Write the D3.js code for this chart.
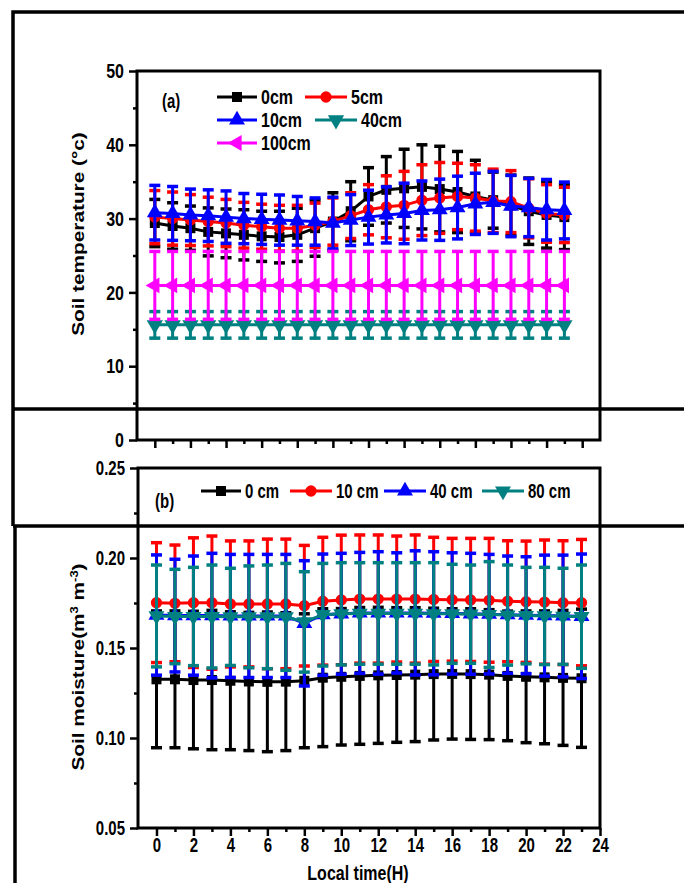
<!DOCTYPE html>
<meta charset="utf-8">
<head>
	<script src="https://d3js.org/d3.v7.min.js"></script>
</head>
<style>
	body { margin: 0; background: #fff; }
	svg text {
		font-family: "Liberation Sans", Arial, sans-serif;
		font-weight: bold;
		fill: #000;
	}
	.tick line { stroke: #000; stroke-width: 2.5px; }
	.domain { display: none; }
</style>
<body>
<svg id="chart" width="684" height="883"></svg>
<script>
	// ---------- data ----------
	var hours = [0,1,2,3,4,5,6,7,8,9,10,11,12,13,14,15,16,17,18,19,20,21,22,23];

	// (a) soil temperature, mean and std
	var t0cm = [29.4,29.0,28.7,28.2,28.0,27.8,27.6,27.5,27.8,28.7,29.6,31.0,33.0,33.9,34.1,34.3,34.0,33.6,33.0,32.5,31.8,31.0,30.5,30.2];
	var t0cmSd = [3.2,3.15,3.0,3.25,3.3,3.4,3.4,3.5,3.6,3.8,3.9,4.0,3.9,4.5,5.3,5.7,5.8,5.5,4.9,3.8,4.1,4.5,4.5,4.4];
	var t5cm = [30.2,30.0,29.8,29.6,29.4,29.1,28.9,28.7,28.7,29.1,29.6,30.4,31.2,31.6,31.8,32.5,32.8,33.0,32.8,32.4,32.3,31.4,30.7,30.5];
	var t5cmSd = [3.6,3.6,3.45,3.3,3.2,3.1,3.05,3.1,3.1,3.0,3.2,3.1,3.4,4.2,4.6,4.8,4.8,4.5,4.5,4.3,4.2,4.0,3.9,3.75];
	var t10cm = [30.8,30.7,30.5,30.4,30.2,30.0,29.9,29.8,29.7,29.6,29.4,29.8,30.2,30.5,30.7,31.1,31.2,31.5,32.0,32.2,31.7,31.5,31.2,31.1];
	var t10cmSd = [3.7,3.65,3.5,3.5,3.55,3.4,3.4,3.4,3.3,3.2,3.5,3.45,3.65,3.8,4.1,4.0,4.15,4.25,4.15,4.2,4.15,3.95,4.1,3.85];
	var t40cm = [15.6,15.6,15.6,15.6,15.6,15.6,15.6,15.6,15.6,15.6,15.6,15.6,15.6,15.6,15.6,15.6,15.6,15.6,15.6,15.6,15.6,15.6,15.6,15.6];
	var t40cmSd = [1.8,1.8,1.8,1.8,1.8,1.8,1.8,1.8,1.8,1.8,1.8,1.8,1.8,1.8,1.8,1.8,1.8,1.8,1.8,1.8,1.8,1.8,1.8,1.8];
	var t100cm = [20.95,20.95,20.95,20.95,20.95,20.95,20.95,20.95,20.95,20.95,20.95,20.95,20.95,20.95,20.95,20.95,20.95,20.95,20.95,20.95,20.95,20.95,20.95,20.95];
	var t100cmSd = [4.6,4.6,4.6,4.6,4.6,4.6,4.6,4.6,4.6,4.6,4.6,4.6,4.6,4.6,4.6,4.6,4.6,4.6,4.6,4.6,4.6,4.6,4.6,4.6];

	// (b) soil moisture, mean and std
	var m0cm = [0.1326,0.1326,0.1322,0.1322,0.1318,0.1314,0.1312,0.1313,0.1318,0.1335,0.1340,0.1345,0.1348,0.1350,0.1352,0.1355,0.1356,0.1355,0.1352,0.1345,0.1340,0.1337,0.1334,0.1332];
	var m0cmSd = [0.0380,0.0380,0.0382,0.0387,0.0383,0.0384,0.0388,0.0383,0.0372,0.0383,0.0379,0.0380,0.0378,0.0374,0.0372,0.0366,0.0362,0.0363,0.0361,0.0360,0.0366,0.0369,0.0375,0.0384];
	var m10cm = [0.1752,0.1748,0.1752,0.1752,0.1745,0.1745,0.1745,0.1745,0.1735,0.1760,0.1767,0.1772,0.1772,0.1772,0.1772,0.1770,0.1768,0.1767,0.1765,0.1760,0.1757,0.1755,0.1752,0.1752];
	var m10cmSd = [0.0333,0.0324,0.0360,0.0370,0.0350,0.0350,0.0360,0.0360,0.0335,0.0355,0.0360,0.0356,0.0356,0.0350,0.0356,0.0345,0.0341,0.0342,0.0344,0.0336,0.0337,0.0345,0.0344,0.0351];
	var m40cm = [0.1683,0.1680,0.1680,0.1680,0.1678,0.1678,0.1678,0.1678,0.1637,0.1685,0.1690,0.1695,0.1695,0.1695,0.1695,0.1693,0.1692,0.1690,0.1688,0.1685,0.1682,0.1680,0.1678,0.1676];
	var m40cmSd = [0.0334,0.0313,0.0331,0.0346,0.0342,0.0342,0.0342,0.0342,0.0348,0.0337,0.0336,0.0336,0.0340,0.0334,0.0345,0.0342,0.0337,0.0336,0.0332,0.0326,0.0325,0.0336,0.0338,0.0346];
	var m80cm = [0.1678,0.1675,0.1675,0.1675,0.1673,0.1673,0.1673,0.1673,0.1645,0.1685,0.1690,0.1692,0.1692,0.1692,0.1692,0.1690,0.1690,0.1688,0.1686,0.1683,0.1680,0.1678,0.1676,0.1674];
	var m80cmSd = [0.0283,0.0262,0.0273,0.0286,0.0270,0.0283,0.0288,0.0297,0.0279,0.0285,0.0284,0.0282,0.0282,0.0282,0.0282,0.0284,0.0275,0.0273,0.0294,0.0278,0.0268,0.0270,0.0267,0.0287];

	// ticks
	var xMajor = [0,2,4,6,8,10,12,14,16,18,20,22,24];
	var xMinor = [1,3,5,7,9,11,13,15,17,19,21,23];
	var yMajorA = [0,10,20,30,40,50];
	var yMinorA = [5,15,25,35,45];
	var yMajorB = [0.05,0.10,0.15,0.20,0.25];
	var yMinorB = [0.075,0.125,0.175,0.225];

	var svg = d3.select("#chart");
	var SY = 1.3;   // the original figure is stretched vertically, text looks tall

	// ---------- helpers ----------
	function series(g, x, y, mean, sd, color, shape, rot, size) {
		var pts = hours.map(function(h, i) { return {h: h, m: mean[i], s: sd[i]}; });
		var eb = g.append("g");
		pts.forEach(function(d) {
			eb.append("line")
				.attr("x1", x(d.h)).attr("x2", x(d.h))
				.attr("y1", y(d.m + d.s)).attr("y2", y(d.m - d.s))
				.attr("stroke", color).attr("stroke-width", 3);
			[d.m + d.s, d.m - d.s].forEach(function(v) {
				eb.append("line")
					.attr("x1", x(d.h) - 5.5).attr("x2", x(d.h) + 5.5)
					.attr("y1", y(v)).attr("y2", y(v))
					.attr("stroke", color).attr("stroke-width", 3.5);
			});
		});
		g.append("path")
			.attr("d", d3.line().x(function(d) { return x(d.h); }).y(function(d) { return y(d.m); })(pts))
			.attr("fill", "none").attr("stroke", color).attr("stroke-width", 3);
		g.selectAll(null).data(pts).enter().append("path")
			.attr("d", d3.symbol().type(shape).size(size)())
			.attr("transform", function(d) { return "translate(" + x(d.h) + "," + y(d.m) + ") rotate(" + rot + ")"; })
			.attr("fill", color);
	}

	function tallText(g, x, y, fs, label, anchor) {
		return g.append("text")
			.attr("transform", "translate(" + x + "," + y + ") scale(1," + SY + ")")
			.attr("text-anchor", anchor || "start")
			.style("font-size", fs + "px").text(label);
	}

	function legendItem(g, x0, y0, len, color, shape, rot, size, label, fs) {
		g.append("line").attr("x1", x0).attr("x2", x0 + len).attr("y1", y0).attr("y2", y0)
			.attr("stroke", color).attr("stroke-width", 3);
		g.append("path").attr("d", d3.symbol().type(shape).size(size)())
			.attr("transform", "translate(" + (x0 + len / 2) + "," + y0 + ") rotate(" + rot + ")")
			.attr("fill", color);
		tallText(g, x0 + len + 4, y0, fs, label).attr("dy", "0.36em");
	}

	function axes(g, x, y, yMaj, yMin, fmtY, showX, fs) {
		var b = y.range()[0], t = y.range()[1], l = x.range()[0], r = x.range()[1];
		g.append("g").attr("transform", "translate(0," + b + ")")
			.call(d3.axisBottom(x).tickValues(xMajor).tickSize(8).tickPadding(0)
				.tickFormat(showX ? d3.format("d") : ""))
			.selectAll("text").style("font-size", fs + "px")
			.attr("transform", "scale(1," + SY + ")");
		g.append("g").attr("transform", "translate(0," + b + ")")
			.call(d3.axisBottom(x).tickValues(xMinor).tickSize(4).tickFormat(""));
		g.append("g").attr("transform", "translate(" + l + ",0)")
			.call(d3.axisLeft(y).tickValues(yMaj).tickSize(8).tickPadding(5).tickFormat(fmtY))
			.selectAll("text").style("font-size", fs + "px")
			.attr("transform", "scale(1," + SY + ")");
		g.append("g").attr("transform", "translate(" + l + ",0)")
			.call(d3.axisLeft(y).tickValues(yMin).tickSize(4).tickFormat(""));
		g.append("rect").attr("x", l).attr("y", t).attr("width", r - l).attr("height", b - t)
			.attr("fill", "none").attr("stroke", "#000").attr("stroke-width", 3);
	}

	// ---------- panel (a) ----------
	var xa = d3.scaleLinear().domain([-1, 25]).range([137, 600]);
	var ya = d3.scaleLinear().domain([0, 50]).range([440, 71]);
	var ga = svg.append("g");
	series(ga, xa, ya, t0cm, t0cmSd, "#000000", d3.symbolSquare, 0, 100);
	series(ga, xa, ya, t5cm, t5cmSd, "#ff0000", d3.symbolCircle, 0, 100);
	series(ga, xa, ya, t10cm, t10cmSd, "#0000ff", d3.symbolTriangle, 0, 110);
	series(ga, xa, ya, t40cm, t40cmSd, "#008080", d3.symbolTriangle, 180, 115);
	series(ga, xa, ya, t100cm, t100cmSd, "#ff00ff", d3.symbolTriangle, -90, 110);
	axes(ga, xa, ya, yMajorA, yMinorA, d3.format("d"), false, 16);

	tallText(ga, 162, 101, 15, "(a)").attr("dy", "0.36em");
	legendItem(ga, 217, 97, 40, "#000000", d3.symbolSquare, 0, 100, "0cm", 16);
	legendItem(ga, 305, 97, 42, "#ff0000", d3.symbolCircle, 0, 100, "5cm", 16);
	legendItem(ga, 217, 120, 40, "#0000ff", d3.symbolTriangle, 0, 110, "10cm", 16);
	legendItem(ga, 315, 120, 42, "#008080", d3.symbolTriangle, 180, 115, "40cm", 16);
	legendItem(ga, 217, 143, 40, "#ff00ff", d3.symbolTriangle, -90, 110, "100cm", 16);

	ga.append("text").attr("transform", "translate(84,234) scale(1," + SY + ") rotate(-90)")
		.attr("text-anchor", "middle").style("font-size", "16px").text("Soil temperature (°c)");

	// ---------- panel (b) ----------
	var xb = d3.scaleLinear().domain([-1, 24]).range([138, 600]);
	var yb = d3.scaleLinear().domain([0.05, 0.25]).range([828, 468]);
	var gb = svg.append("g");
	series(gb, xb, yb, m0cm, m0cmSd, "#000000", d3.symbolSquare, 0, 100);
	series(gb, xb, yb, m10cm, m10cmSd, "#ff0000", d3.symbolCircle, 0, 100);
	series(gb, xb, yb, m40cm, m40cmSd, "#0000ff", d3.symbolTriangle, 0, 110);
	series(gb, xb, yb, m80cm, m80cmSd, "#008080", d3.symbolTriangle, 180, 110);
	axes(gb, xb, yb, yMajorB, yMinorB, d3.format(".2f"), true, 15);

	tallText(gb, 155, 501, 15, "(b)").attr("dy", "0.36em");
	legendItem(gb, 201, 491, 40, "#000000", d3.symbolSquare, 0, 100, "0 cm", 15);
	legendItem(gb, 290, 491, 42, "#ff0000", d3.symbolCircle, 0, 100, "10 cm", 15);
	legendItem(gb, 384, 491, 42, "#0000ff", d3.symbolTriangle, 0, 110, "40 cm", 15);
	legendItem(gb, 482, 491, 42, "#008080", d3.symbolTriangle, 180, 110, "80 cm", 15);

	var ttl = gb.append("text").attr("transform", "translate(84,667) scale(1," + SY + ") rotate(-90)")
		.attr("text-anchor", "middle").style("font-size", "16px");
	ttl.append("tspan").text("Soil moisture(m");
	ttl.append("tspan").attr("dy", -6).style("font-size", "10px").text("3");
	ttl.append("tspan").attr("dy", 6).text(" m");
	ttl.append("tspan").attr("dy", -6).style("font-size", "10px").text("-3");
	ttl.append("tspan").attr("dy", 6).text(")");

	tallText(gb, 358, 880, 16, "Local time(H)", "middle");

	// ---------- outer frame lines ----------
	var frame = svg.append("g").attr("stroke", "#000").attr("stroke-width", 3.5).attr("fill", "none");
	frame.append("path").attr("d", d3.line()([[684, 12], [13, 12], [13, 526]]));
	frame.append("path").attr("d", d3.line()([[15, 526], [15, 883]]));
	frame.append("path").attr("d", d3.line()([[13, 409], [684, 409]]));
	frame.append("path").attr("d", d3.line()([[13, 526], [684, 526]]));
</script>
</body>
